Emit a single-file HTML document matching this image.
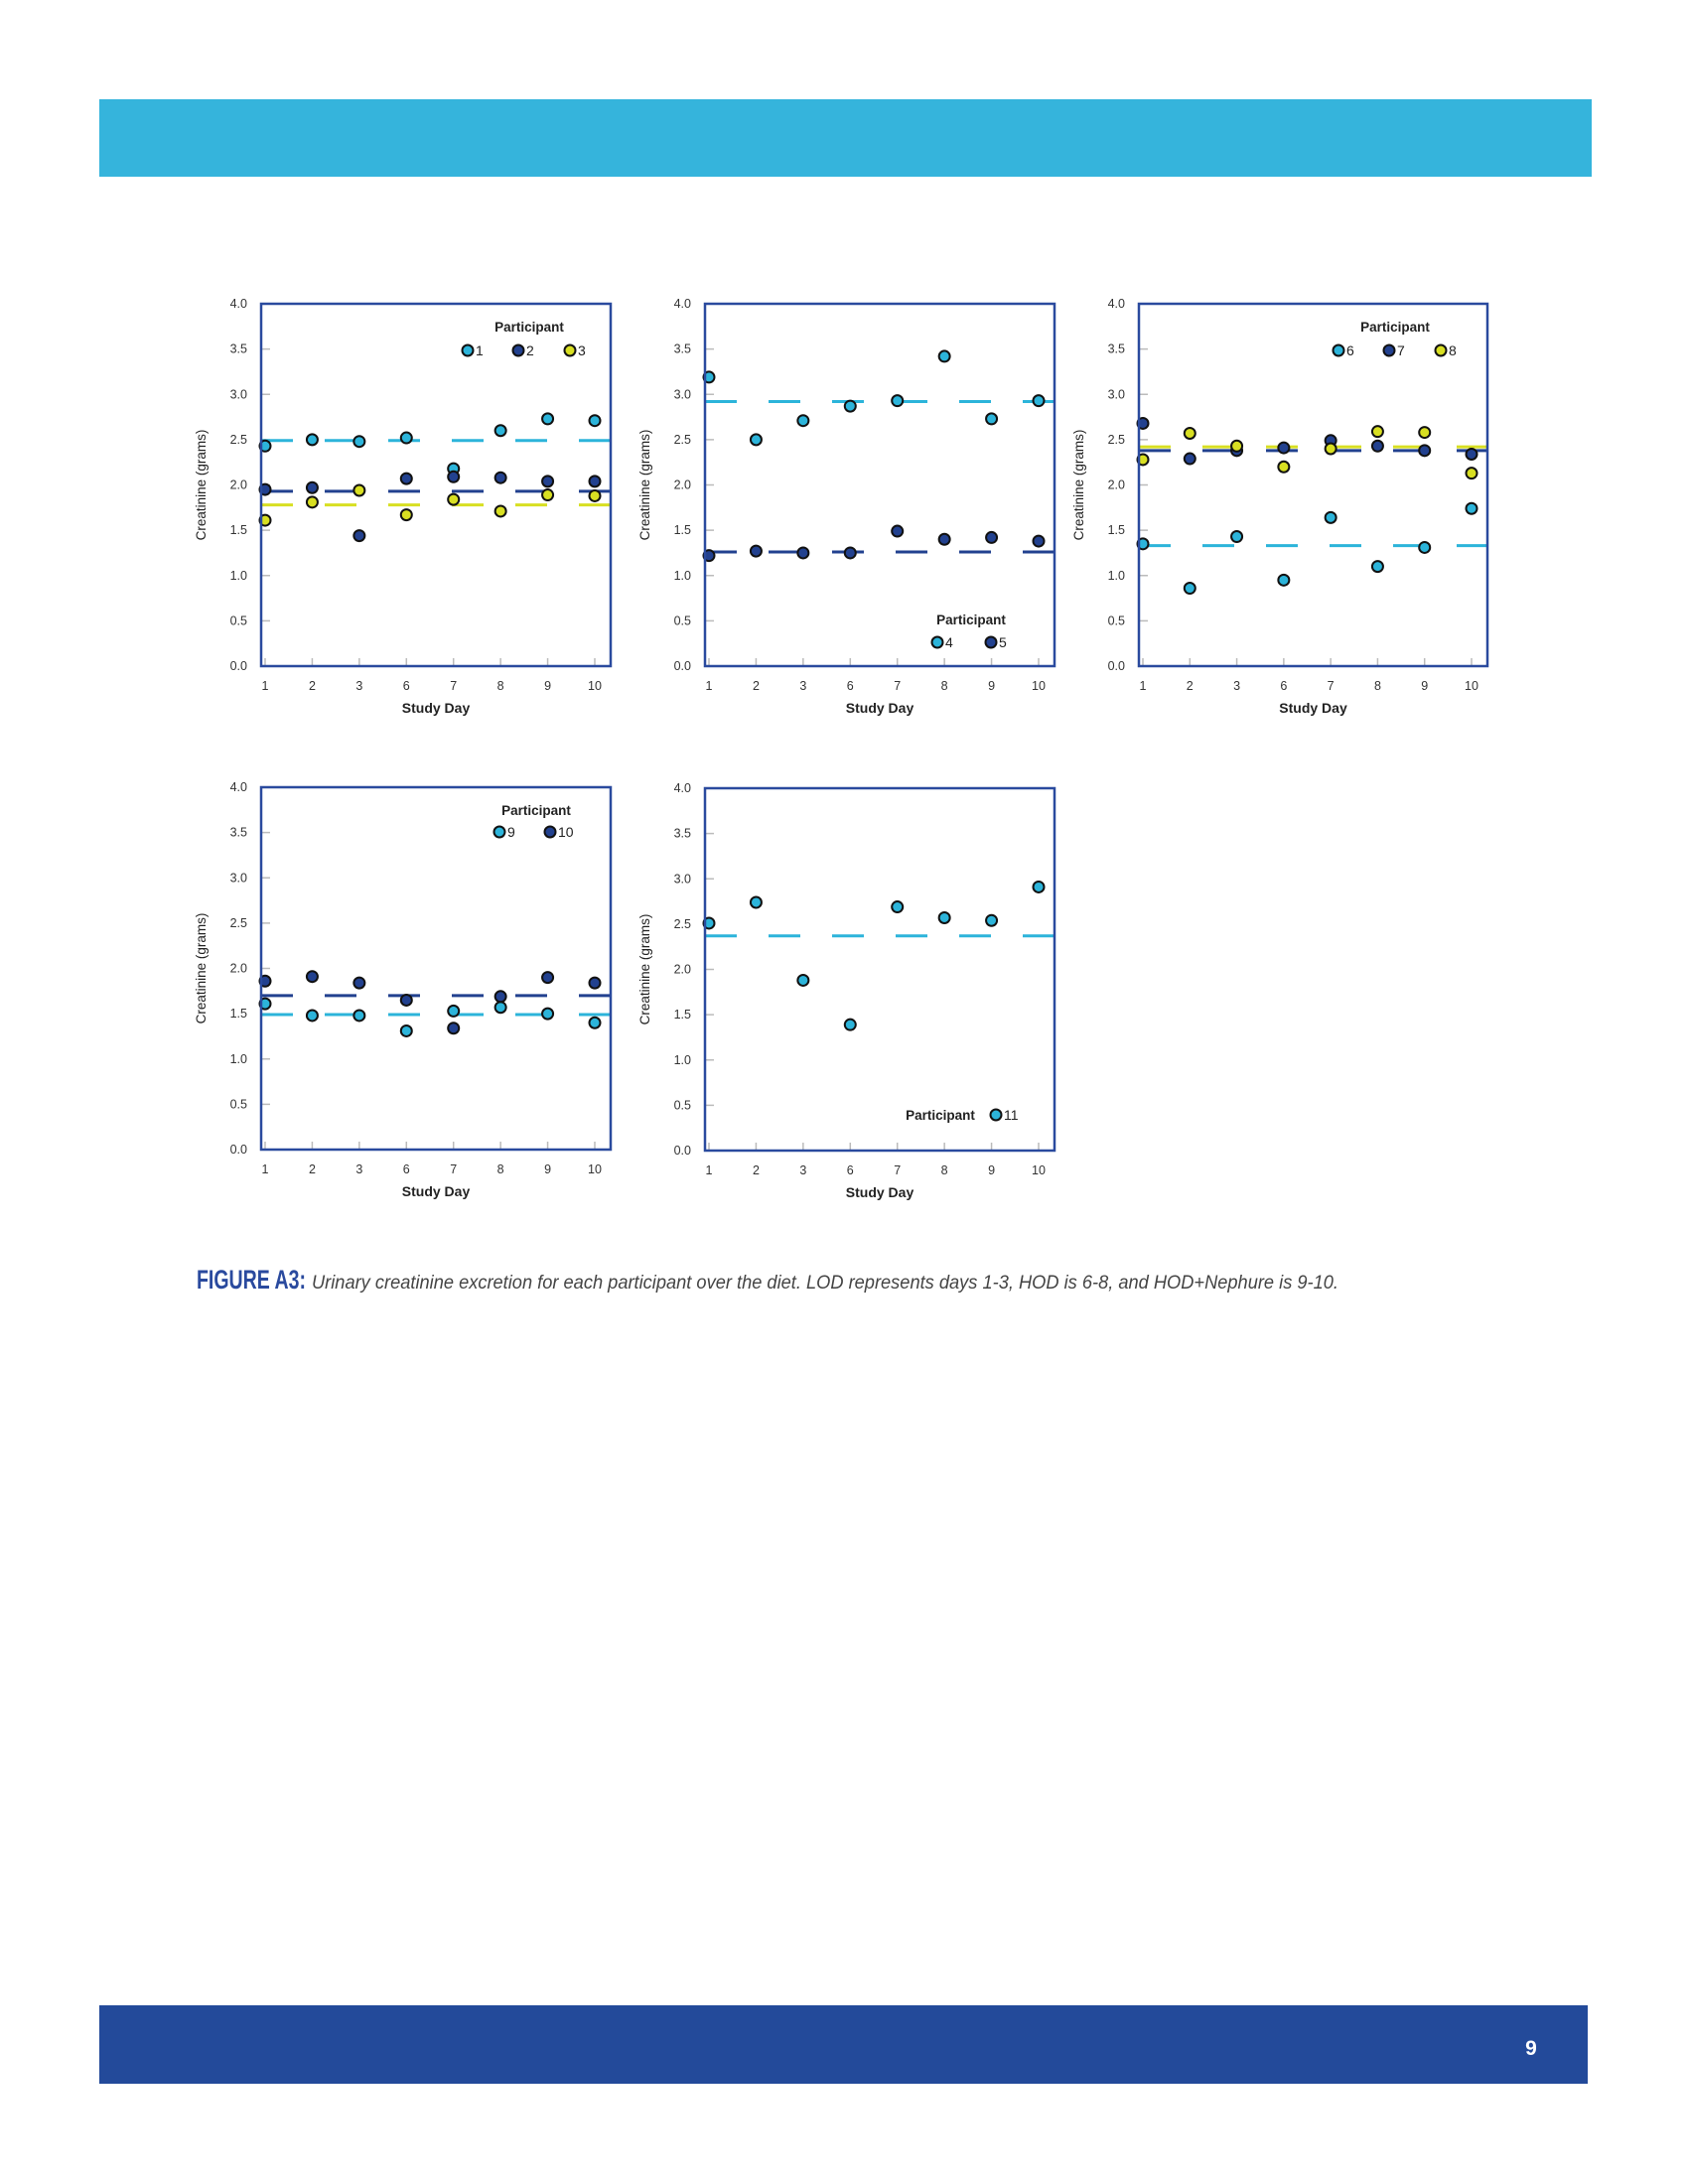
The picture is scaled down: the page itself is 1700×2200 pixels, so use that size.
<!DOCTYPE html>
<html><head><meta charset="utf-8"><style>
html,body{margin:0;padding:0;background:#fff;}
svg{display:block;font-family:"Liberation Sans",sans-serif;}
</style></head><body>
<svg id="page" width="1700" height="2200" viewBox="0 0 1700 2200" xmlns="http://www.w3.org/2000/svg">
<rect x="100" y="100" width="1503" height="78" fill="#35b4dc"/>
<rect x="100" y="2020" width="1499" height="79" fill="#234a9a"/>
<text x="1542" y="2070" fill="#fff" font-size="21" font-weight="bold" text-anchor="middle">9</text>
<text x="198" y="1298" fill="#2a4a9e" font-size="27" font-weight="bold" textLength="110" lengthAdjust="spacingAndGlyphs">FIGURE A3:</text>
<text x="314" y="1298" fill="#444" font-size="19" font-style="italic" textLength="1034" lengthAdjust="spacingAndGlyphs">Urinary creatinine excretion for each participant over the diet. LOD represents days 1-3, HOD is 6-8, and HOD+Nephure is 9-10.</text>
<g id="charts"></g>
</svg>
<script>
const days = ["1","2","3","6","7","8","9","10"];
const yTicks = [0,0.5,1,1.5,2,2.5,3,3.5,4];
const yTickLabels = ["0.0","0.5","1.0","1.5","2.0","2.5","3.0","3.5","4.0"];
const p1 = [2.43,2.50,2.48,2.52,2.18,2.60,2.73,2.71];
const p2 = [1.95,1.97,1.44,2.07,2.09,2.08,2.04,2.04];
const p3 = [1.61,1.81,1.94,1.67,1.84,1.71,1.89,1.88];
const p4 = [3.19,2.50,2.71,2.87,2.93,3.42,2.73,2.93];
const p5 = [1.22,1.27,1.25,1.25,1.49,1.40,1.42,1.38];
const p6 = [1.35,0.86,1.43,0.95,1.64,1.10,1.31,1.74];
const p7 = [2.68,2.29,2.38,2.41,2.49,2.43,2.38,2.34];
const p8 = [2.28,2.57,2.43,2.20,2.40,2.59,2.58,2.13];
const p9 = [1.61,1.48,1.48,1.31,1.53,1.57,1.50,1.40];
const p10 = [1.86,1.91,1.84,1.65,1.34,1.69,1.90,1.84];
const p11 = [2.51,2.74,1.88,1.39,2.69,2.57,2.54,2.91];
const means = {"1":2.49,"2":1.93,"3":1.78,"4":2.92,"5":1.26,"6":1.33,"7":2.38,"8":2.42,"9":1.49,"10":1.70,"11":2.37};

const C = {cyan:"#2cb4da", navy:"#22418f", yellow:"#d8df22"};
const NS = "http://www.w3.org/2000/svg";
const root = document.getElementById('charts');
function mk(tag, attrs, parent){const e=document.createElementNS(NS,tag);for(const k in attrs)e.setAttribute(k,attrs[k]);parent.appendChild(e);return e;}

const panels = [
 {L:263,R:615,T:306,B:671,series:[["1",p1,"cyan"],["2",p2,"navy"],["3",p3,"yellow"]],leg:{tx:533,ty:334,items:[[471,353],[522,353],[574,353]]}},
 {L:710,R:1062,T:306,B:671,series:[["4",p4,"cyan"],["5",p5,"navy"]],leg:{tx:978,ty:629,items:[[944,647],[998,647]]}},
 {L:1147,R:1498,T:306,B:671,series:[["6",p6,"cyan"],["7",p7,"navy"],["8",p8,"yellow"]],leg:{tx:1405,ty:334,items:[[1348,353],[1399,353],[1451,353]]}},
 {L:263,R:615,T:793,B:1158,series:[["9",p9,"cyan"],["10",p10,"navy"]],leg:{tx:540,ty:821,items:[[503,838],[554,838]]}},
 {L:710,R:1062,T:794,B:1159,series:[["11",p11,"cyan"]],leg:{tx:947,ty:1128,inline:true,items:[[1003,1123]]}}
];

panels.forEach((p,pi)=>{
  const g = mk('g',{},root);
  
  
  const x = i => p.L+4+i*((p.R-16-(p.L+4))/7);
  const y = v => p.B - v*(p.B-p.T)/4;
  yTicks.forEach((t,i)=>{
    if(i>0 && i<yTicks.length-1){const tk=mk('line',{x1:p.L,x2:p.L+9,y1:y(t),y2:y(t),stroke:"#bbb","stroke-width":1.5},g);
    
    }
    const tl=mk('text',{x:p.L-14,y:y(t)+4,"font-size":12.5,"text-anchor":"end",fill:"#333"},g);
    tl.textContent=yTickLabels[i];
    
    
  });
  days.forEach((d,i)=>{
    const tk=mk('line',{x1:x(i),x2:x(i),y1:p.B,y2:p.B-8,stroke:"#bbb","stroke-width":1.5},g);
    
    
    const tl=mk('text',{x:x(i),y:p.B+24,"font-size":12.5,"text-anchor":"middle",fill:"#333"},g);
    tl.textContent=d;
    
    
  });
  const xt=mk('text',{x:(p.L+p.R)/2,y:p.B+47,"font-size":14,"font-weight":"bold","text-anchor":"middle",fill:"#222"},g);
  xt.textContent="Study Day";
  
  
  const cy=(p.T+p.B)/2, cx=p.L-56;
  const yt=mk('text',{x:cx,y:cy,"font-size":13.5,"text-anchor":"middle",fill:"#222",transform:`rotate(-90 ${cx} ${cy})`},g);
  yt.textContent="Creatinine (grams)";
  
  
  p.series.forEach(s=>{
    const ln=mk('line',{x1:p.L,x2:p.R,y1:y(means[s[0]]),y2:y(means[s[0]]),stroke:C[s[2]],"stroke-width":3,"stroke-dasharray":"32 32"},g);
    
    
  });
  p.series.forEach(s=>{
    s[1].forEach((v,i)=>{
      const c=mk('circle',{cx:x(i),cy:y(v),r:5.5,fill:C[s[2]],stroke:"#111","stroke-width":2},g);
      
      
    });
  });
  const fr=mk('rect',{x:p.L,y:p.T,width:p.R-p.L,height:p.B-p.T,fill:"none",stroke:"#2a4a9e","stroke-width":2.5},g);
  
  
  const lt=mk('text',{x:p.leg.tx,y:p.leg.ty,"font-size":13.5,"font-weight":"bold","text-anchor":"middle",fill:"#222"},g);
  lt.textContent="Participant";
  
  
  p.series.forEach((s,k)=>{
    const [lx,ly]=p.leg.items[k];
    const lc=mk('circle',{cx:lx,cy:ly,r:5.5,fill:C[s[2]],stroke:"#111","stroke-width":2},g);
    
    
    const ltx=mk('text',{x:lx+8,y:ly+5,"font-size":14,fill:"#222"},g);
    ltx.textContent=s[0];
    
    
  });
});
</script>
</body></html>
